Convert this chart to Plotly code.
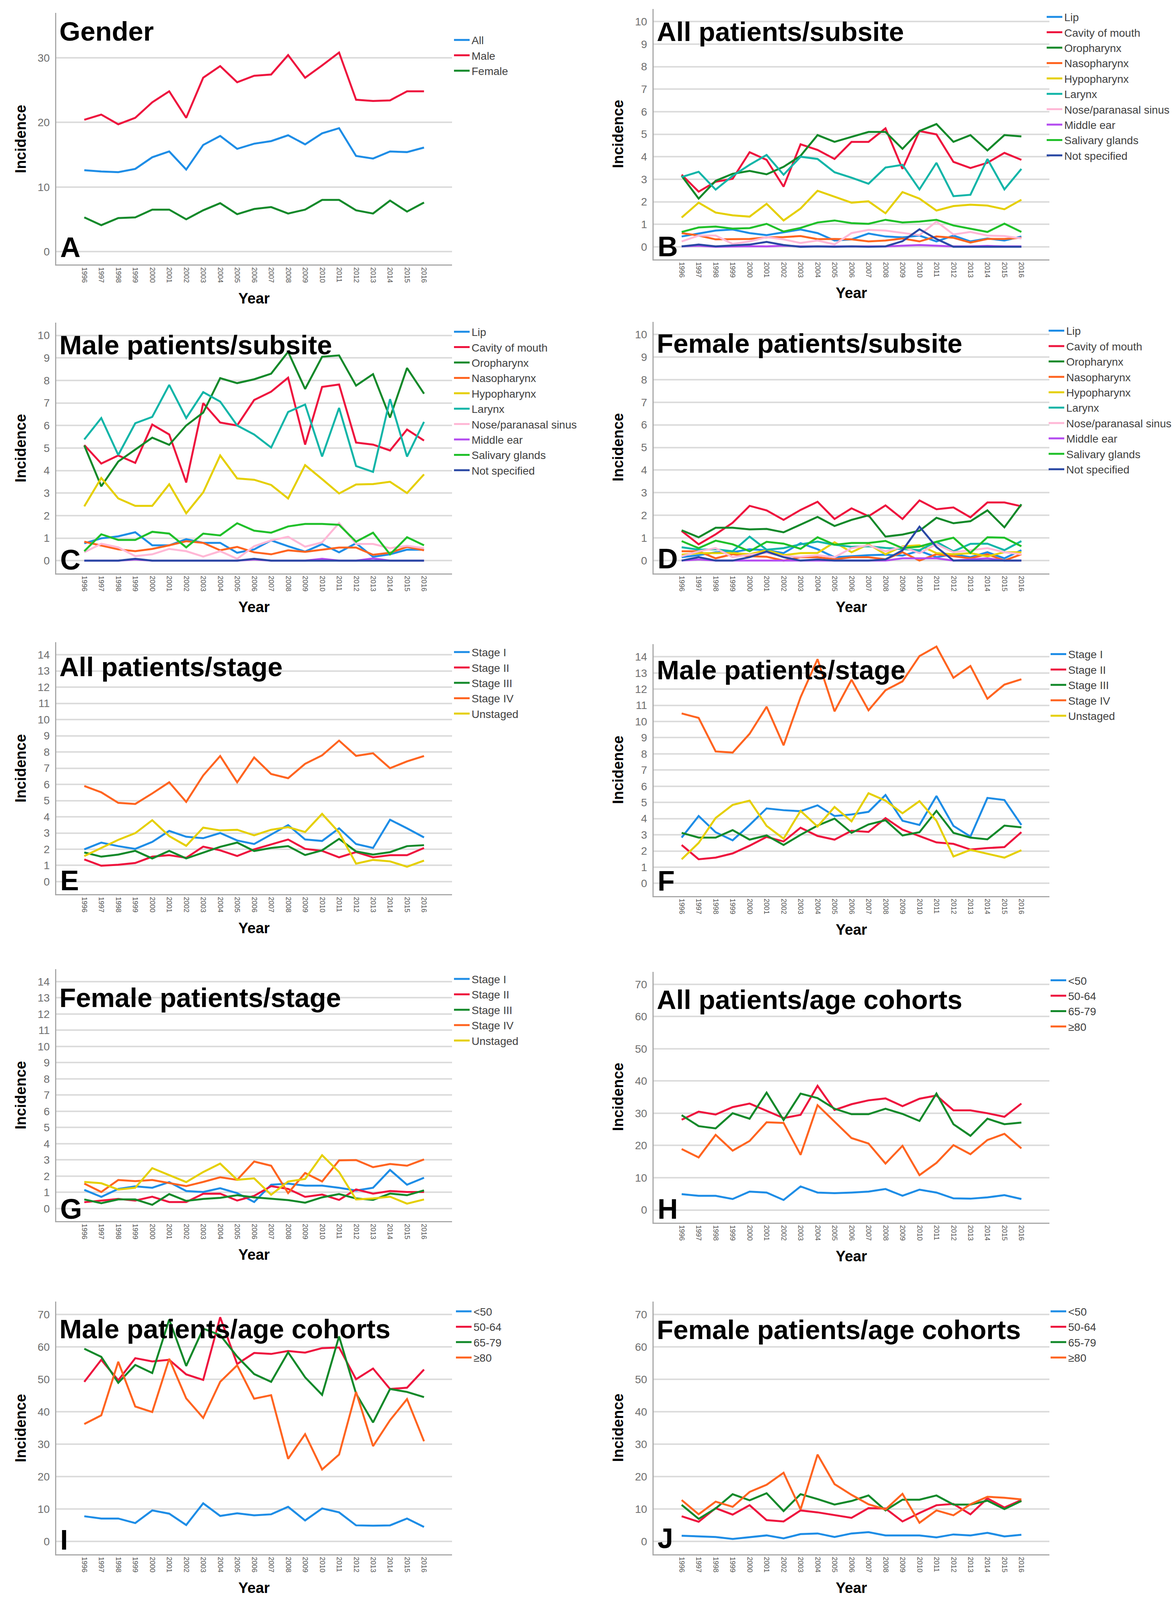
import plotly.graph_objects as go

# ---- data (incidence per year) ----
YEARS = [1996, 1997, 1998, 1999, 2000, 2001, 2002, 2003, 2004, 2005, 2006,
         2007, 2008, 2009, 2010, 2011, 2012, 2013, 2014, 2015, 2016]

GENDER_NAMES = ["All", "Male", "Female"]
SUBSITES = ["Lip", "Cavity of mouth", "Oropharynx", "Nasopharynx", "Hypopharynx",
            "Larynx", "Nose/paranasal sinus", "Middle ear", "Salivary glands", "Not specified"]
STAGES = ["Stage I", "Stage II", "Stage III", "Stage IV", "Unstaged"]
AGES = ["<50", "50-64", "65-79", "≥80"]

# A - gender
A_ALL = [12.6, 12.4, 12.3, 12.8, 14.6, 15.5, 12.7, 16.5, 17.9, 15.9, 16.7, 17.1, 18.0, 16.6, 18.3, 19.1, 14.8, 14.4, 15.5, 15.4, 16.1]
A_MALE = [20.4, 21.2, 19.7, 20.7, 23.1, 24.8, 20.7, 26.9, 28.7, 26.2, 27.2, 27.4, 30.4, 26.9, 28.8, 30.8, 23.5, 23.3, 23.4, 24.8, 24.8]
A_FEMALE = [5.3, 4.1, 5.2, 5.3, 6.5, 6.5, 5.0, 6.4, 7.5, 5.8, 6.6, 6.9, 5.9, 6.5, 8.0, 8.0, 6.4, 5.9, 7.9, 6.2, 7.6]

# B - all patients / subsite
B_LIP = [0.46, 0.59, 0.72, 0.77, 0.61, 0.52, 0.64, 0.77, 0.61, 0.28, 0.33, 0.59, 0.46, 0.42, 0.50, 0.24, 0.50, 0.24, 0.37, 0.28, 0.46]
B_CAVITY = [3.2, 2.45, 2.89, 3.02, 4.2, 3.86, 2.67, 4.55, 4.3, 3.9, 4.66, 4.66, 5.26, 3.46, 5.14, 4.99, 3.77, 3.5, 3.73, 4.17, 3.86]
B_ORO = [3.15, 2.14, 2.93, 3.24, 3.37, 3.22, 3.55, 4.04, 4.96, 4.66, 4.88, 5.1, 5.1, 4.35, 5.14, 5.45, 4.66, 4.96, 4.28, 4.96, 4.9]
B_NASO = [0.61, 0.5, 0.33, 0.34, 0.35, 0.42, 0.43, 0.48, 0.34, 0.35, 0.33, 0.24, 0.28, 0.37, 0.24, 0.46, 0.4, 0.19, 0.35, 0.35, 0.4]
B_HYPO = [1.3, 1.96, 1.52, 1.4, 1.34, 1.91, 1.17, 1.7, 2.49, 2.23, 1.96, 2.02, 1.49, 2.43, 2.14, 1.61, 1.81, 1.87, 1.83, 1.67, 2.09]
B_LARYNX = [3.1, 3.33, 2.54, 3.15, 3.64, 4.08, 3.2, 4.0, 3.9, 3.31, 3.07, 2.8, 3.52, 3.64, 2.55, 3.73, 2.25, 2.31, 3.9, 2.55, 3.46]
B_NOSE = [0.24, 0.5, 0.5, 0.13, 0.24, 0.43, 0.33, 0.17, 0.28, 0.11, 0.61, 0.75, 0.72, 0.61, 0.52, 1.12, 0.55, 0.66, 0.5, 0.48, 0.37]
B_EAR = [0.02, 0.05, 0.0, 0.02, 0.03, 0.02, 0.05, 0.02, 0.02, 0.0, 0.02, 0.0, 0.02, 0.05, 0.08, 0.05, 0.02, 0.02, 0.04, 0.02, 0.02]
B_SALIVARY = [0.66, 0.86, 0.9, 0.81, 0.83, 1.02, 0.68, 0.84, 1.08, 1.17, 1.05, 1.02, 1.2, 1.08, 1.12, 1.2, 0.95, 0.81, 0.66, 1.03, 0.66]
B_NOTSPEC = [0.02, 0.1, 0.02, 0.05, 0.1, 0.22, 0.08, 0.0, 0.02, 0.0, 0.02, 0.0, 0.02, 0.25, 0.78, 0.35, 0.0, 0.0, 0.0, 0.0, 0.0]

# C - male patients / subsite
C_LIP = [0.77, 0.99, 1.08, 1.26, 0.68, 0.68, 0.95, 0.79, 0.79, 0.35, 0.5, 0.9, 0.64, 0.4, 0.73, 0.37, 0.77, 0.17, 0.28, 0.49, 0.48]
C_CAVITY = [5.13, 4.31, 4.67, 4.34, 6.04, 5.6, 3.47, 6.99, 6.13, 6.0, 7.13, 7.5, 8.12, 5.15, 7.71, 7.82, 5.24, 5.15, 4.89, 5.82, 5.33]
C_ORO = [5.11, 3.3, 4.4, 4.93, 5.46, 5.14, 6.0, 6.57, 8.1, 7.88, 8.05, 8.3, 9.27, 7.62, 9.05, 9.11, 7.77, 8.28, 6.35, 8.55, 7.41]
C_NASO = [0.84, 0.68, 0.5, 0.42, 0.52, 0.68, 0.86, 0.79, 0.46, 0.61, 0.37, 0.28, 0.46, 0.39, 0.49, 0.58, 0.58, 0.26, 0.35, 0.61, 0.46]
C_HYPO = [2.41, 3.67, 2.76, 2.43, 2.43, 3.39, 2.1, 3.03, 4.67, 3.65, 3.59, 3.36, 2.76, 4.24, 3.62, 2.98, 3.38, 3.4, 3.5, 3.0, 3.83]
C_LARYNX = [5.38, 6.33, 4.69, 6.1, 6.38, 7.8, 6.33, 7.48, 7.06, 6.0, 5.6, 5.02, 6.6, 6.93, 4.62, 6.78, 4.2, 3.94, 7.17, 4.62, 6.16]
C_NOSE = [0.37, 0.75, 0.59, 0.2, 0.28, 0.52, 0.42, 0.18, 0.42, 0.08, 0.64, 0.9, 1.06, 0.62, 0.81, 1.67, 0.74, 0.74, 0.55, 0.66, 0.55]
C_EAR = [0.0, 0.0, 0.0, 0.05, 0.0, 0.0, 0.0, 0.0, 0.0, 0.0, 0.05, 0.0, 0.0, 0.0, 0.08, 0.0, 0.0, 0.1, 0.0, 0.0, 0.0]
C_SALIVARY = [0.42, 1.17, 0.92, 0.92, 1.28, 1.2, 0.59, 1.2, 1.12, 1.66, 1.33, 1.24, 1.52, 1.63, 1.63, 1.59, 0.84, 1.24, 0.28, 1.04, 0.68]
C_NOTSPEC = [0.0, 0.0, 0.0, 0.08, 0.0, 0.0, 0.0, 0.0, 0.0, 0.0, 0.08, 0.0, 0.0, 0.0, 0.0, 0.0, 0.0, 0.0, 0.0, 0.0, 0.0]

# D - female patients / subsite
D_LIP = [0.15, 0.24, 0.37, 0.37, 0.5, 0.46, 0.33, 0.77, 0.5, 0.15, 0.19, 0.24, 0.26, 0.22, 0.43, 0.15, 0.28, 0.15, 0.37, 0.1, 0.46]
D_CAVITY = [1.31, 0.72, 1.16, 1.67, 2.42, 2.22, 1.8, 2.24, 2.6, 1.84, 2.31, 1.96, 2.44, 1.84, 2.66, 2.27, 2.35, 1.91, 2.57, 2.57, 2.4]
D_ORO = [1.34, 1.03, 1.45, 1.45, 1.38, 1.4, 1.25, 1.6, 1.93, 1.53, 1.8, 2.0, 1.06, 1.15, 1.32, 1.89, 1.65, 1.74, 2.22, 1.47, 2.49]
D_NASO = [0.41, 0.41, 0.1, 0.28, 0.19, 0.17, 0.0, 0.15, 0.15, 0.06, 0.15, 0.15, 0.06, 0.37, 0.0, 0.28, 0.19, 0.1, 0.28, 0.0, 0.28]
D_HYPO = [0.26, 0.33, 0.33, 0.34, 0.28, 0.46, 0.24, 0.33, 0.34, 0.81, 0.37, 0.72, 0.28, 0.63, 0.68, 0.33, 0.28, 0.33, 0.19, 0.37, 0.37]
D_LARYNX = [0.59, 0.48, 0.5, 0.41, 1.06, 0.48, 0.55, 0.72, 0.84, 0.7, 0.61, 0.63, 0.56, 0.5, 0.46, 0.83, 0.41, 0.74, 0.75, 0.46, 0.86]
D_NOSE = [0.19, 0.41, 0.55, 0.15, 0.26, 0.34, 0.19, 0.17, 0.24, 0.15, 0.55, 0.68, 0.41, 0.61, 0.33, 0.72, 0.37, 0.46, 0.55, 0.37, 0.28]
D_EAR = [0.0, 0.05, 0.0, 0.0, 0.0, 0.0, 0.0, 0.0, 0.0, 0.0, 0.0, 0.0, 0.0, 0.1, 0.1, 0.1, 0.0, 0.05, 0.1, 0.0, 0.0]
D_SALIVARY = [0.86, 0.55, 0.88, 0.72, 0.41, 0.83, 0.75, 0.52, 1.03, 0.7, 0.78, 0.78, 0.87, 0.55, 0.62, 0.83, 1.01, 0.34, 1.03, 1.01, 0.63]
D_NOTSPEC = [0.0, 0.15, 0.0, 0.0, 0.15, 0.4, 0.15, 0.0, 0.05, 0.0, 0.0, 0.0, 0.05, 0.45, 1.5, 0.6, 0.0, 0.0, 0.0, 0.0, 0.0]

# E - all patients / stage
E_S1 = [1.99, 2.41, 2.19, 2.02, 2.45, 3.13, 2.77, 2.68, 3.0, 2.54, 2.32, 2.9, 3.49, 2.6, 2.51, 3.29, 2.32, 2.08, 3.82, 3.29, 2.73]
E_S2 = [1.37, 0.98, 1.04, 1.15, 1.54, 1.63, 1.47, 2.16, 1.93, 1.58, 1.99, 2.28, 2.6, 2.02, 1.9, 1.5, 1.82, 1.5, 1.63, 1.63, 2.08]
E_S3 = [1.8, 1.54, 1.67, 1.9, 1.43, 1.9, 1.43, 1.8, 2.15, 2.41, 1.89, 2.08, 2.19, 1.64, 1.93, 2.64, 1.86, 1.67, 1.82, 2.19, 2.25]
E_S4 = [5.9, 5.51, 4.86, 4.79, 5.44, 6.13, 4.92, 6.55, 7.75, 6.13, 7.66, 6.64, 6.38, 7.27, 7.79, 8.7, 7.76, 7.92, 7.0, 7.42, 7.75]
E_UN = [1.58, 2.08, 2.58, 2.99, 3.79, 2.81, 2.21, 3.33, 3.16, 3.2, 2.86, 3.2, 3.36, 3.06, 4.18, 3.03, 1.11, 1.34, 1.25, 0.92, 1.3]

# F - male patients / stage
F_S1 = [2.83, 4.16, 3.16, 2.66, 3.61, 4.63, 4.52, 4.46, 4.82, 4.16, 4.26, 4.42, 5.46, 3.87, 3.61, 5.4, 3.55, 2.89, 5.28, 5.15, 3.61]
F_S2 = [2.37, 1.49, 1.59, 1.85, 2.33, 2.87, 2.59, 3.44, 2.93, 2.7, 3.25, 3.18, 4.03, 3.32, 2.92, 2.53, 2.44, 2.09, 2.18, 2.24, 3.16]
F_S3 = [3.12, 2.83, 2.83, 3.29, 2.7, 2.96, 2.37, 3.0, 3.57, 4.0, 3.12, 3.64, 3.9, 2.96, 3.16, 4.48, 3.12, 2.83, 2.72, 3.57, 3.46]
F_S4 = [10.5, 10.22, 8.15, 8.08, 9.24, 10.91, 8.53, 11.5, 13.85, 10.63, 12.58, 10.69, 11.93, 12.48, 14.04, 14.63, 12.7, 13.43, 11.41, 12.28, 12.61]
F_UN = [1.49, 2.5, 4.04, 4.85, 5.11, 3.55, 2.76, 4.48, 3.51, 4.72, 3.83, 5.57, 5.11, 4.33, 5.08, 3.87, 1.66, 2.07, 1.83, 1.59, 2.05]

# G - female patients / stage
G_S1 = [1.15, 0.72, 1.21, 1.37, 1.28, 1.63, 1.08, 1.02, 1.25, 0.95, 0.4, 1.47, 1.54, 1.41, 1.41, 1.28, 1.11, 1.28, 2.38, 1.47, 1.9]
G_S2 = [0.39, 0.49, 0.59, 0.49, 0.73, 0.4, 0.4, 0.91, 0.92, 0.49, 0.78, 1.38, 1.21, 0.72, 0.86, 0.53, 1.18, 0.92, 1.08, 1.02, 1.02]
G_S3 = [0.56, 0.33, 0.56, 0.56, 0.23, 0.89, 0.47, 0.59, 0.66, 0.82, 0.69, 0.62, 0.52, 0.36, 0.69, 0.89, 0.62, 0.53, 0.92, 0.82, 1.12]
G_S4 = [1.54, 1.02, 1.76, 1.69, 1.76, 1.56, 1.38, 1.64, 1.93, 1.77, 2.9, 2.64, 0.95, 2.19, 1.67, 2.97, 2.99, 2.55, 2.75, 2.64, 3.03]
G_UN = [1.64, 1.56, 1.17, 1.28, 2.49, 2.06, 1.63, 2.25, 2.77, 1.77, 1.86, 0.85, 1.67, 1.82, 3.29, 2.25, 0.56, 0.62, 0.73, 0.3, 0.56]

# H - all patients / age cohorts
H_U50 = [4.9, 4.4, 4.4, 3.4, 5.7, 5.4, 3.1, 7.3, 5.4, 5.2, 5.4, 5.7, 6.5, 4.4, 6.3, 5.4, 3.6, 3.5, 3.9, 4.6, 3.4]
H_50 = [28.0, 30.5, 29.6, 31.9, 33.0, 30.8, 28.5, 29.5, 38.5, 31.0, 32.8, 34.0, 34.6, 32.2, 34.5, 35.5, 30.9, 30.9, 30.0, 28.9, 33.0]
H_65 = [29.4, 26.0, 25.3, 30.0, 28.3, 36.4, 27.9, 36.1, 34.7, 31.4, 29.7, 29.7, 31.4, 29.8, 27.6, 36.1, 26.6, 23.0, 28.3, 26.6, 27.1]
H_80 = [18.9, 16.3, 23.3, 18.4, 21.4, 27.2, 27.0, 17.1, 32.5, 27.4, 22.3, 20.6, 14.4, 19.9, 10.8, 14.6, 20.1, 17.3, 21.7, 23.6, 19.1]

# I - male patients / age cohorts
I_U50 = [7.8, 7.1, 7.1, 5.7, 9.6, 8.6, 5.1, 11.8, 7.9, 8.7, 8.1, 8.4, 10.7, 6.5, 10.2, 9.0, 5.0, 4.9, 5.0, 7.1, 4.5]
I_50 = [49.2, 56.0, 49.7, 56.5, 55.5, 56.0, 51.5, 49.8, 69.1, 54.7, 58.1, 57.8, 58.7, 58.2, 59.6, 59.8, 50.0, 53.3, 47.0, 47.4, 53.0]
I_65 = [59.4, 56.9, 48.9, 54.4, 51.9, 68.4, 54.1, 65.6, 63.6, 57.0, 51.6, 49.2, 58.3, 50.6, 45.2, 63.2, 45.6, 36.7, 47.0, 46.1, 44.5]
I_80 = [36.2, 38.9, 55.4, 41.6, 39.9, 56.3, 44.1, 38.1, 49.2, 54.3, 44.0, 45.1, 25.5, 33.1, 22.2, 26.8, 46.1, 29.4, 37.4, 43.9, 30.9]

# J - female patients / age cohorts
J_U50 = [1.8, 1.6, 1.4, 0.8, 1.4, 1.9, 1.0, 2.3, 2.5, 1.4, 2.5, 2.9, 1.9, 1.9, 1.9, 1.3, 2.2, 1.9, 2.7, 1.6, 2.1]
J_50 = [7.8, 6.1, 10.3, 8.3, 11.2, 6.6, 6.2, 9.6, 9.0, 8.1, 7.3, 10.3, 10.2, 6.2, 8.8, 11.2, 11.6, 8.4, 13.3, 10.5, 12.8]
J_65 = [11.3, 7.0, 10.2, 14.6, 12.7, 14.9, 9.4, 14.6, 13.1, 11.4, 12.5, 14.2, 9.6, 12.9, 12.9, 14.2, 11.4, 11.4, 12.6, 10.0, 12.5]
J_80 = [12.8, 8.4, 12.3, 10.7, 15.3, 17.5, 21.2, 9.9, 26.8, 17.7, 14.4, 11.5, 9.9, 14.7, 5.8, 9.6, 8.1, 11.5, 13.8, 13.5, 13.0]

# ---- styling ----
W, H = 3010, 4650
FONT = "Liberation Sans, Arial, Helvetica, sans-serif"

BLUE = "#1e8de6"
RED = "#ee143e"
DGREEN = "#13892a"
ORANGE = "#ff6420"
YELLOW = "#e5cf00"
TEAL = "#12b5a8"
PINK = "#ffb8d6"
PURPLE = "#b44cf0"
LGREEN = "#20c02a"
NAVY = "#2a48a4"

SUBSITE_COLORS = [BLUE, RED, DGREEN, ORANGE, YELLOW, TEAL, PINK, PURPLE, LGREEN, NAVY]
STAGE_COLORS = [BLUE, RED, DGREEN, ORANGE, YELLOW]
AGE_COLORS = [BLUE, RED, DGREEN, ORANGE]

LEFT = (144, 1157)
RIGHT = (1673, 2686)

# positions below are pixels of the 3010x4650 original, converted to paper fractions
panels = [
    dict(title="Gender", letter="A", cols=LEFT, rows=(38, 769), yr=(-2.0, 36.9), ticks=[0, 10, 20, 30],
         names=GENDER_NAMES, colors=[BLUE, RED, DGREEN], series=[A_ALL, A_MALE, A_FEMALE],
         leg=(1163, 110), ttl=91, let=719),
    dict(title="All patients/subsite", letter="B", cols=RIGHT, rows=(26, 754), yr=(-0.56, 10.56), ticks=list(range(0, 11)),
         names=SUBSITES, colors=SUBSITE_COLORS,
         series=[B_LIP, B_CAVITY, B_ORO, B_NASO, B_HYPO, B_LARYNX, B_NOSE, B_EAR, B_SALIVARY, B_NOTSPEC],
         leg=(2680, 43), ttl=93, let=716),
    dict(title="Male patients/subsite", letter="C", cols=LEFT, rows=(938, 1666), yr=(-0.56, 10.56), ticks=list(range(0, 11)),
         names=SUBSITES, colors=SUBSITE_COLORS,
         series=[C_LIP, C_CAVITY, C_ORO, C_NASO, C_HYPO, C_LARYNX, C_NOSE, C_EAR, C_SALIVARY, C_NOTSPEC],
         leg=(1163, 958), ttl=1003, let=1627),
    dict(title="Female patients/subsite", letter="D", cols=RIGHT, rows=(935, 1666), yr=(-0.56, 10.56), ticks=list(range(0, 11)),
         names=SUBSITES, colors=SUBSITE_COLORS,
         series=[D_LIP, D_CAVITY, D_ORO, D_NASO, D_HYPO, D_LARYNX, D_NOSE, D_EAR, D_SALIVARY, D_NOTSPEC],
         leg=(2685, 955), ttl=998, let=1623),
    dict(title="All patients/stage", letter="E", cols=LEFT, rows=(1866, 2599), yr=(-0.78, 14.78), ticks=list(range(0, 15)),
         names=STAGES, colors=STAGE_COLORS, series=[E_S1, E_S2, E_S3, E_S4, E_UN],
         leg=(1163, 1889), ttl=1939, let=2559),
    dict(title="Male patients/stage", letter="F", cols=RIGHT, rows=(1872, 2604), yr=(-0.78, 14.78), ticks=list(range(0, 15)),
         names=STAGES, colors=STAGE_COLORS, series=[F_S1, F_S2, F_S3, F_S4, F_UN],
         leg=(2690, 1895), ttl=1948, let=2560),
    dict(title="Female patients/stage", letter="G", cols=LEFT, rows=(2816, 3549), yr=(-0.78, 14.78), ticks=list(range(0, 15)),
         names=STAGES, colors=STAGE_COLORS, series=[G_S1, G_S2, G_S3, G_S4, G_UN],
         leg=(1163, 2839), ttl=2900, let=3514),
    dict(title="All patients/age cohorts", letter="H", cols=RIGHT, rows=(2824, 3553), yr=(-3.9, 73.9), ticks=list(range(0, 71, 10)),
         names=AGES, colors=AGE_COLORS, series=[H_U50, H_50, H_65, H_80],
         leg=(2690, 2843), ttl=2906, let=3514),
    dict(title="Male patients/age cohorts", letter="I", cols=LEFT, rows=(3783, 4517), yr=(-3.9, 73.9), ticks=list(range(0, 71, 10)),
         names=AGES, colors=AGE_COLORS, series=[I_U50, I_50, I_65, I_80],
         leg=(1168, 3805), ttl=3863, let=4475),
    dict(title="Female patients/age cohorts", letter="J", cols=RIGHT, rows=(3783, 4517), yr=(-3.9, 73.9), ticks=list(range(0, 71, 10)),
         names=AGES, colors=AGE_COLORS, series=[J_U50, J_50, J_65, J_80],
         leg=(2690, 3805), ttl=3865, let=4471),
]


def px_x(v):
    return v / W


def px_y(v):
    return 1 - v / H


fig = go.Figure()
layout = {}
annotations = []

for i, p in enumerate(panels, start=1):
    sfx = "" if i == 1 else str(i)
    x0, x1 = p["cols"]
    top, bottom = p["rows"]
    leg_name = "legend" + sfx

    for name, color, vals in zip(p["names"], p["colors"], p["series"]):
        fig.add_trace(go.Scatter(
            x=YEARS, y=vals, name=name, mode="lines",
            line=dict(color=color, width=5),
            xaxis="x" + sfx, yaxis="y" + sfx, legend=leg_name,
        ))

    layout["xaxis" + sfx] = dict(
        domain=[px_x(x0), px_x(x1)], anchor="y" + sfx,
        range=[YEARS[0] - 1.65, YEARS[-1] + 1.65],
        tickvals=YEARS, ticktext=[str(y) for y in YEARS], tickangle=90,
        tickfont=dict(family=FONT, size=18, color="#555555"),
        showgrid=False, zeroline=False, showline=True, linecolor="#a8a8a8", linewidth=3,
        ticks="", fixedrange=True,
    )
    layout["yaxis" + sfx] = dict(
        domain=[px_y(bottom), px_y(top)], anchor="x" + sfx,
        range=list(p["yr"]), tickvals=p["ticks"],
        tickfont=dict(family=FONT, size=28, color="#6e6e6e"),
        showgrid=True, gridcolor="#dcdcdc", gridwidth=4,
        zeroline=False, showline=True, linecolor="#a8a8a8", linewidth=3,
        ticks="", ticklabelstandoff=8, fixedrange=True,
    )
    lx, ly = p["leg"]
    layout[leg_name] = dict(
        x=px_x(lx - 6), y=px_y(ly - 22), xanchor="left", yanchor="top",
        font=dict(family=FONT, size=28, color="#404040"),
        bgcolor="rgba(0,0,0,0)", borderwidth=0, itemwidth=40, tracegroupgap=0,
    )

    # panel title, panel letter, axis titles
    annotations.append(dict(
        text="<b>" + p["title"] + "</b>", x=px_x(x0 + 6), y=px_y(p["ttl"]),
        xref="paper", yref="paper", xanchor="left", yanchor="middle", showarrow=False,
        font=dict(family=FONT, size=69, color="black"),
    ))
    annotations.append(dict(
        text="<b>" + p["letter"] + "</b>", x=px_x(x0 + 8), y=px_y(p["let"]),
        xref="paper", yref="paper", xanchor="left", yanchor="middle", showarrow=False,
        font=dict(family=FONT, size=72, color="black"),
    ))
    annotations.append(dict(
        text="<b>Incidence</b>", x=px_x(x0 - 91), y=px_y((top + bottom) / 2),
        xref="paper", yref="paper", xanchor="center", yanchor="middle", showarrow=False,
        textangle=-90, font=dict(family=FONT, size=38, color="black"),
    ))
    annotations.append(dict(
        text="<b>Year</b>", x=px_x((x0 + x1) / 2), y=px_y(bottom + 98),
        xref="paper", yref="paper", xanchor="center", yanchor="middle", showarrow=False,
        font=dict(family=FONT, size=38, color="black"),
    ))

fig.update_layout(
    width=W, height=H,
    margin=dict(l=0, r=0, t=0, b=0),
    paper_bgcolor="white", plot_bgcolor="white",
    showlegend=True, annotations=annotations,
    font=dict(family=FONT),
    **layout,
)

# the browser window can be shorter than the figure (it caps at 4096 px);
# shrink the height to the visible area so the bottom row is not cut off.
# Everything is placed in paper fractions, so the layout scales with it.
fit_js = (
    "document.body.style.margin='0';"
    "var gd=document.getElementById('{plot_id}');"
    "var h=Math.min(window.innerHeight || 4650, 4650);"
    "if (h < 4650) { Plotly.relayout(gd, {height: h}); }"
)
fig.write_html("out.html", post_script=fit_js, config={"displayModeBar": False})
